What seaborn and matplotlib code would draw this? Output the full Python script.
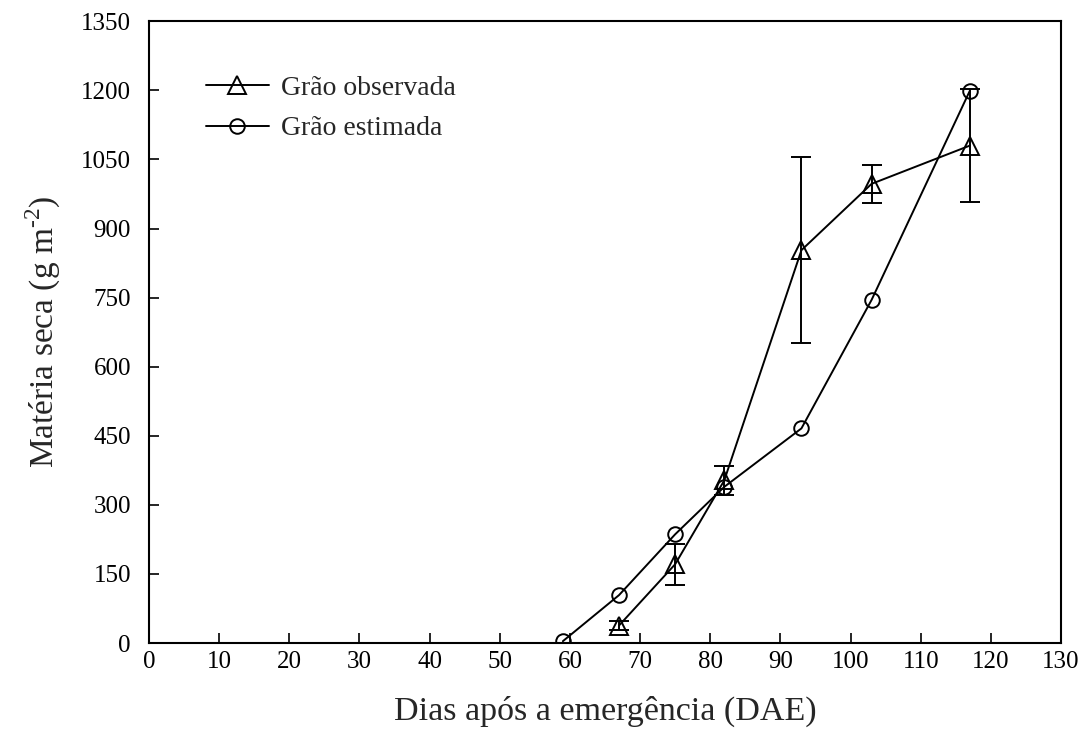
import matplotlib
matplotlib.use("Agg")
import matplotlib.pyplot as plt
import seaborn as sns
import pandas as pd

# Data
dias_obs = [67, 75, 82, 93, 103, 117]
grao_obs = [38, 171, 353, 853, 997, 1080]
erro_obs = [10, 45, 32, 202, 41, 123]

dias_est = [59, 67, 75, 82, 93, 103, 117]
grao_est = [4, 104, 236, 339, 466, 745, 1199]

x_ticks = list(range(0, 131, 10))
y_ticks = list(range(0, 1351, 150))

sns.set_style("ticks")
plt.rcParams['font.family'] = ['Liberation Serif', 'DejaVu Serif']
plt.rcParams['mathtext.fontset'] = 'custom'
plt.rcParams['mathtext.rm'] = 'Liberation Serif'
plt.rcParams['axes.unicode_minus'] = False

fig = plt.figure(figsize=(10.88, 7.49), dpi=100)
ax = fig.add_axes([0.1369, 0.1415, 0.9752 - 0.1369, 0.9716 - 0.1415])

df_obs = pd.DataFrame({"x": dias_obs, "y": grao_obs})
df_est = pd.DataFrame({"x": dias_est, "y": grao_est})

ax.errorbar(dias_obs, grao_obs, yerr=erro_obs, fmt='none', ecolor='black',
            elinewidth=1.4, capsize=7, capthick=1.4, zorder=2)

sns.lineplot(data=df_obs, x="x", y="y", ax=ax, color='black', linewidth=1.4,
             marker='^', markersize=12.5, markerfacecolor='none',
             markeredgecolor='black', markeredgewidth=1.4,
             label='Grão observada', zorder=3)
sns.lineplot(data=df_est, x="x", y="y", ax=ax, color='black', linewidth=1.4,
             marker='o', markersize=10.5, markerfacecolor='none',
             markeredgecolor='black', markeredgewidth=1.4,
             label='Grão estimada', zorder=3)

ax.set_xlim(0, 130)
ax.set_ylim(0, 1350)
ax.set_xticks(x_ticks)
ax.set_yticks(y_ticks)
ax.tick_params(direction='in', length=7, width=1.2, labelsize=18,
               colors='black')
ax.tick_params(axis='x', pad=6)
ax.tick_params(axis='y', pad=13)
for s in ax.spines.values():
    s.set_linewidth(1.5)
    s.set_color('black')
    s.set_visible(True)

ax.set_xlabel('Dias após a emergência (DAE)', fontsize=24.5, labelpad=16)
ax.set_ylabel('Matéria seca (g m$^{\\mathregular{\u2010 2}}$)', fontsize=24, labelpad=13)

leg = ax.legend(loc='upper left', frameon=False, fontsize=20,
                bbox_to_anchor=(0.050, 0.931), handlelength=2.27,
                handletextpad=0.43, labelspacing=0.55, borderaxespad=0)

fig.savefig('out.png', dpi=100)
